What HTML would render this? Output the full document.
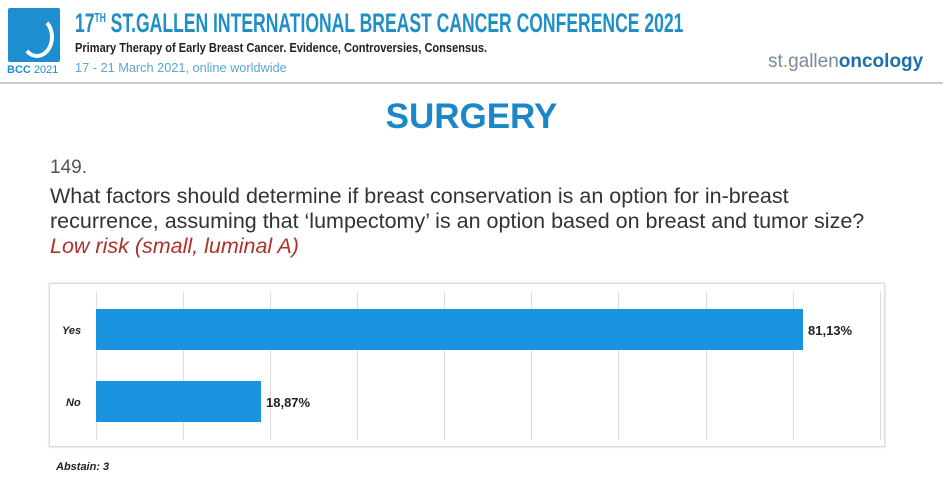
<!DOCTYPE html>
<html><head><meta charset="utf-8"><style>
body{margin:0;width:943px;height:492px;background:#fff;position:relative;overflow:hidden;font-family:"Liberation Sans",sans-serif}
.a{position:absolute;white-space:nowrap}
</style></head><body>
<div class="a" style="left:8px;top:8px;width:52px;height:54px;background:#1d8fd0;border-radius:2px"></div>
<div class="a" style="left:20px;top:16px;width:26px;height:34px;border-radius:50%;border:4px solid #fff;border-top-color:transparent;border-left-color:transparent"></div>
<div class="a" style="left:7px;top:64px;font-size:11px;color:#1d8fd0"><b>BCC</b> 2021</div>
<div class="a" style="left:75px;top:8px;font-size:27px;font-weight:bold;color:#1f8fc8;transform:scaleX(0.65);transform-origin:left top">17<sup style="font-size:13px">TH</sup> ST.GALLEN INTERNATIONAL BREAST CANCER CONFERENCE 2021</div>
<div class="a" style="left:75px;top:40px;font-size:13px;font-weight:bold;color:#222;transform:scaleX(0.85);transform-origin:left top">Primary Therapy of Early Breast Cancer. Evidence, Controversies, Consensus.</div>
<div class="a" style="left:75px;top:60px;font-size:13px;color:#5aa7d4;transform:scaleX(0.98);transform-origin:left top">17 - 21 March 2021, online worldwide</div>
<div class="a" style="left:768px;top:51px;font-size:19px;color:#7a8a99">st<span style="color:#e08a2a">.</span>gallen<span style="color:#1f6fb0;font-weight:bold">oncology</span></div>
<div class="a" style="left:0;top:82px;width:943px;height:2px;background:#ccc"></div>
<div class="a" style="left:0;width:943px;top:97px;text-align:center;font-size:35px;font-weight:bold;color:#1b87c9">SURGERY</div>
<div class="a" style="left:50px;top:157px;font-size:19px;color:#555">149.</div>
<div class="a" style="left:50px;top:184px;font-size:21.5px;color:#333;line-height:25px">What factors should determine if breast conservation is an option for in-breast<br>recurrence, assuming that ‘lumpectomy’ is an option based on breast and tumor size?<br><i style="color:#b0302a">Low risk (small, luminal A)</i></div>
<div class="a" style="left:49px;top:283px;width:834px;height:162px;border:1px solid #ddd;box-shadow:0 0 2px #ccc"></div>
<svg class="a" style="left:0;top:0" width="943" height="492">
<g stroke="#ddd" stroke-width="1">
<line x1="96.5" y1="292" x2="96.5" y2="440"/><line x1="183.5" y1="292" x2="183.5" y2="440"/><line x1="270.5" y1="292" x2="270.5" y2="440"/><line x1="357.5" y1="292" x2="357.5" y2="440"/><line x1="444.5" y1="292" x2="444.5" y2="440"/><line x1="531.5" y1="292" x2="531.5" y2="440"/><line x1="618.5" y1="292" x2="618.5" y2="440"/><line x1="706.5" y1="292" x2="706.5" y2="440"/><line x1="793.5" y1="292" x2="793.5" y2="440"/><line x1="880.5" y1="292" x2="880.5" y2="440"/>
</g>
<rect x="96" y="309" width="707" height="41" fill="#1a93e0"/>
<rect x="96" y="381" width="165" height="41" fill="#1a93e0"/>
<g font-family="Liberation Sans" font-weight="bold" font-size="13" fill="#222">
<text x="62" y="334" font-style="italic" font-size="11">Yes</text>
<text x="66" y="406" font-style="italic" font-size="11">No</text>
<text x="808" y="335">81,13%</text>
<text x="266" y="407">18,87%</text>
<text x="56" y="470" font-style="italic" font-size="11">Abstain: 3</text>
</g>
</svg>
</body></html>
